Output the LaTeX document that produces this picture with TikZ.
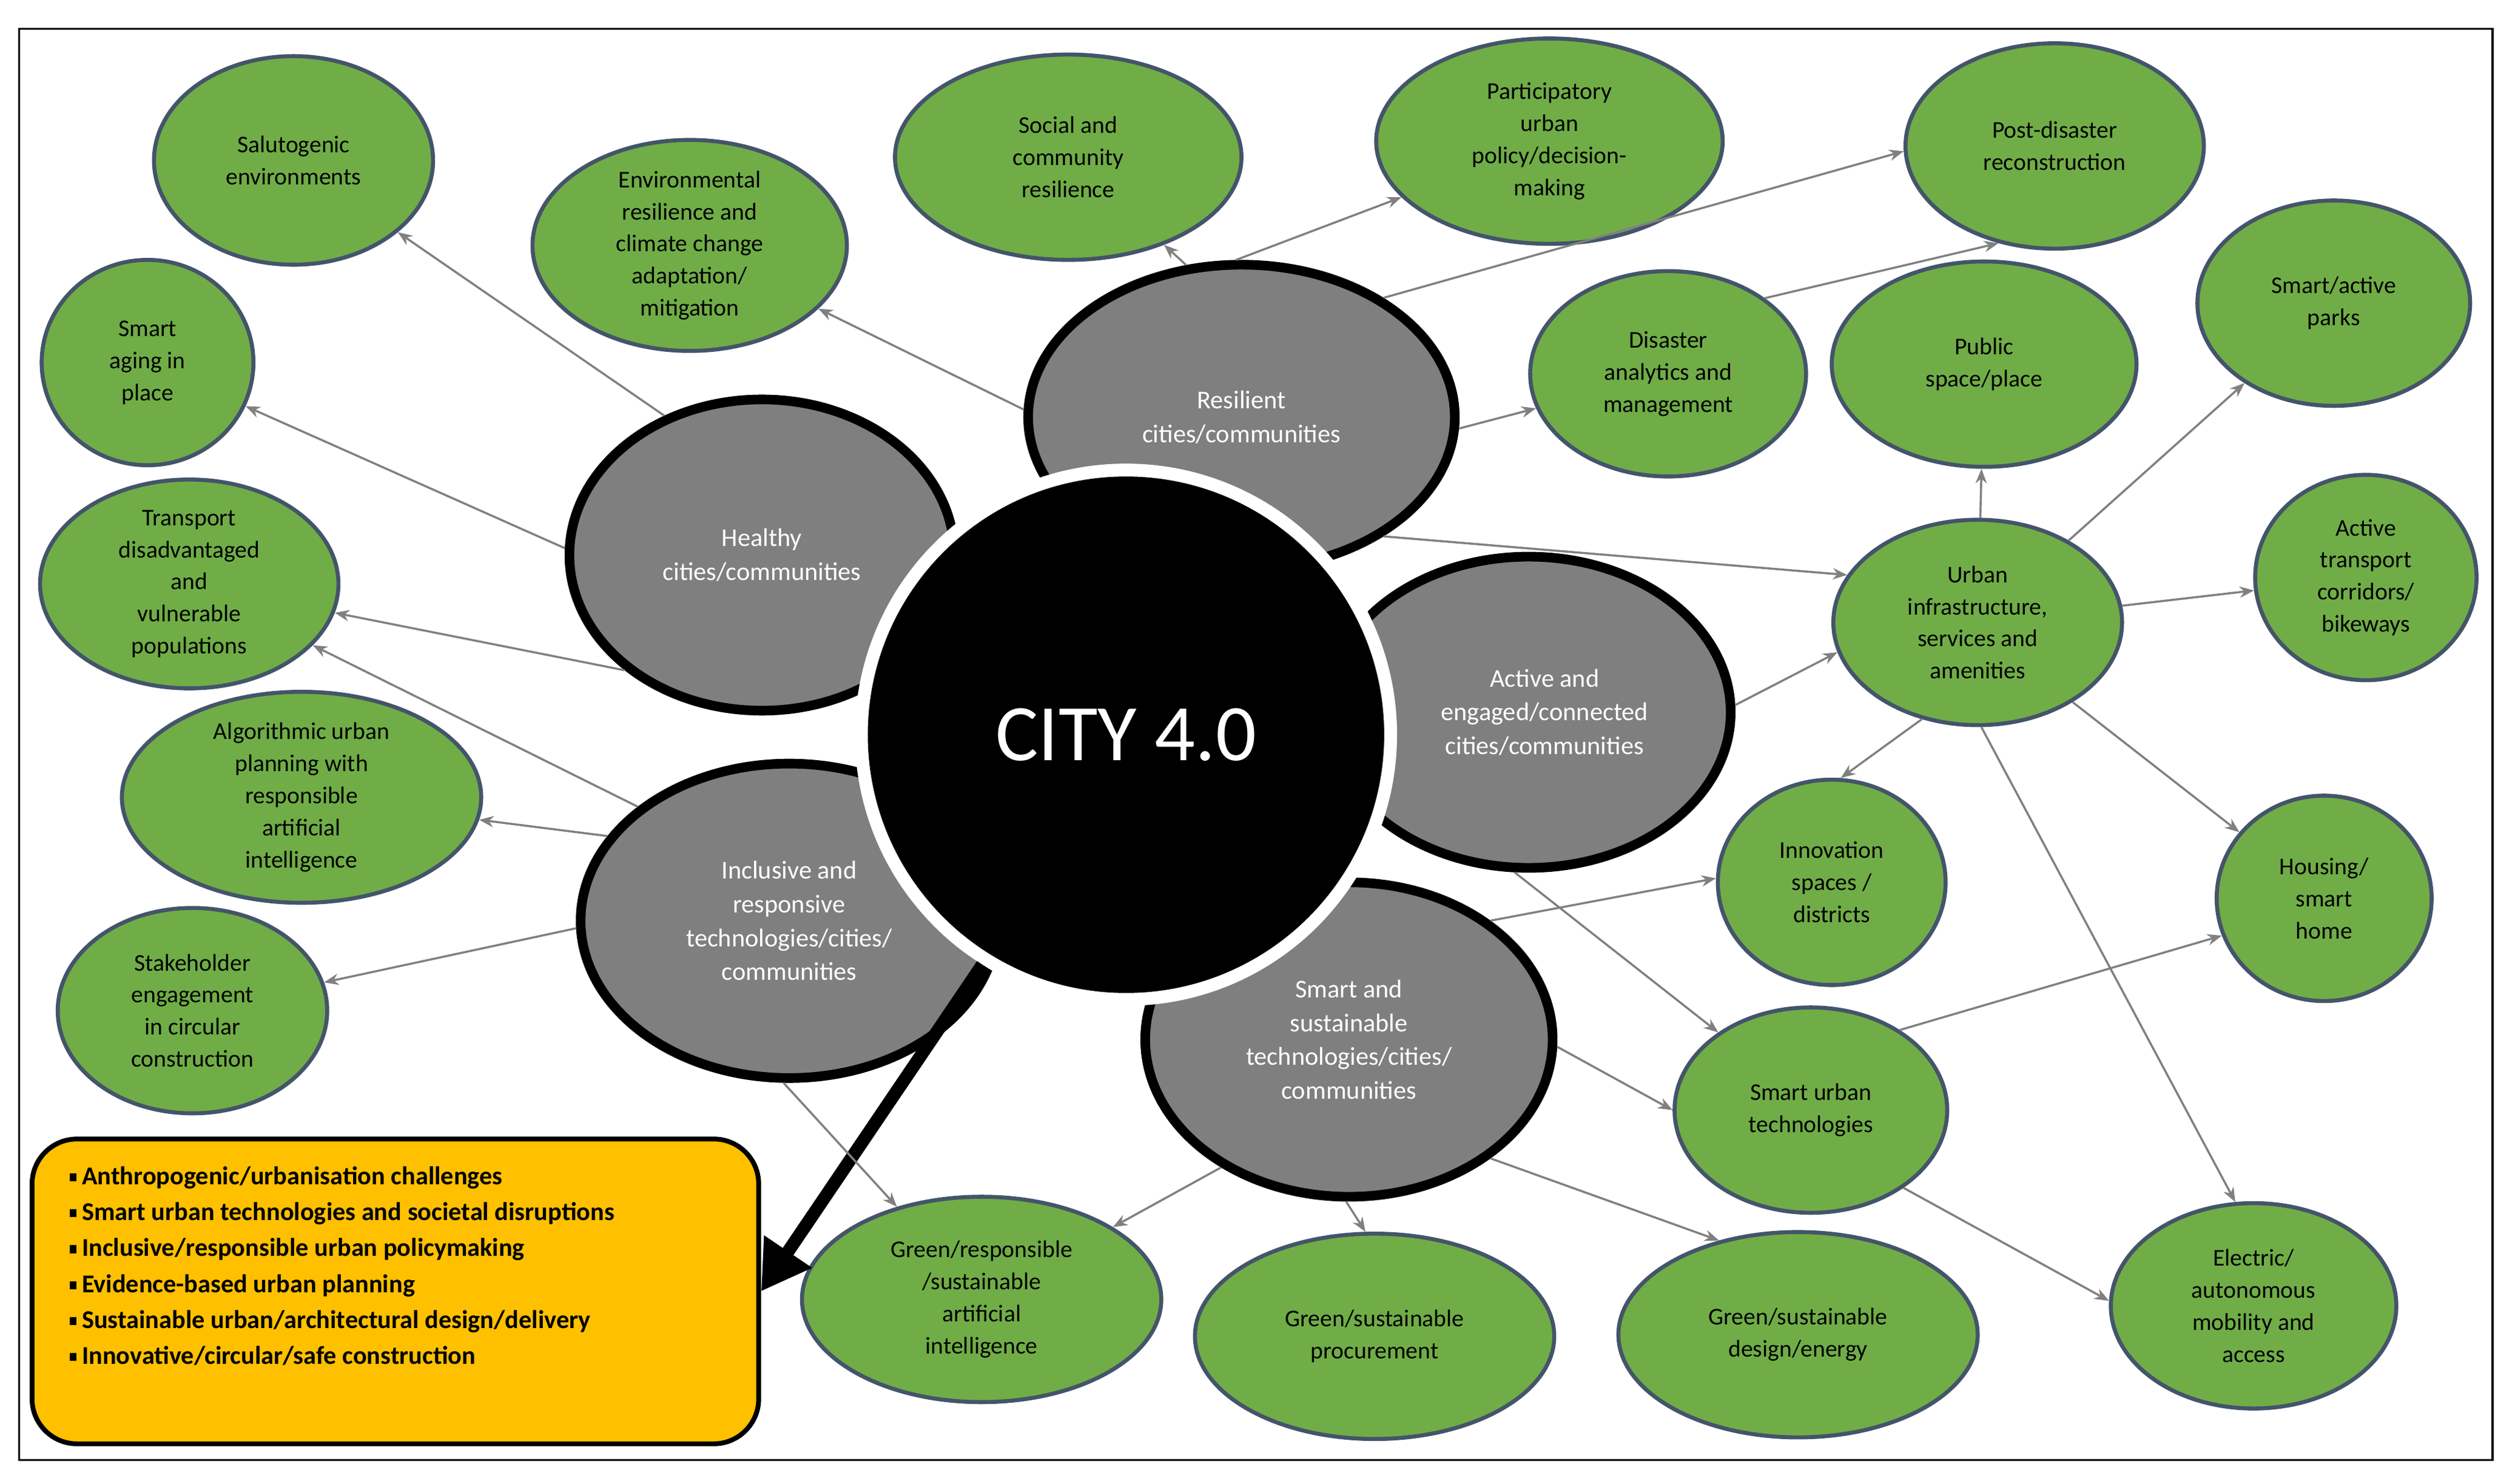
\documentclass[tikz,border=0pt]{standalone}
\usepackage{fontspec}
\setmainfont{Carlito}
\usetikzlibrary{shapes.geometric,arrows.meta}
\definecolor{gr}{HTML}{70AD47}
\definecolor{grb}{HTML}{44546A}
\definecolor{gy}{HTML}{7F7F7F}
\definecolor{yl}{HTML}{FFC000}
\tikzset{
 gnode/.style={ellipse,draw=grb,line width=2.5pt,fill=gr,inner sep=0pt,align=center,font=\fontsize{15}{20}\selectfont},
 ynode/.style={ellipse,draw=black,line width=6pt,fill=gy,inner sep=0pt,align=center,text=white,font=\fontsize{16}{21}\selectfont},
 con/.style={draw=gray,line width=1.3pt,-{Stealth[length=9pt,width=7pt]}},
}
\begin{document}
\begin{tikzpicture}[x=1pt,y=-1pt]
\useasboundingbox (0,0) rectangle (1568,925);
\fill[white] (0,0) rectangle (1568,925);
\draw[line width=1.2pt] (12,18) rectangle (1554,910);
% green
\node[gnode,minimum width=174,minimum height=130] (salut) at (183,100) {Salutogenic\\environments};
\node[gnode,minimum width=132,minimum height=128] (aging) at (92,226) {Smart\\aging in\\place};
\node[gnode,minimum width=186,minimum height=128] (transp) at (118,364) {Transport\\disadvantaged\\and\\vulnerable\\populations};
\node[gnode,minimum width=224,minimum height=128] (algo) at (188,497) {Algorithmic urban\\planning with\\responsible\\artificial\\intelligence};
\node[gnode,minimum width=168,minimum height=128] (stake) at (120,630) {Stakeholder\\engagement\\in circular\\construction};
\node[gnode,minimum width=196,minimum height=128] (envres) at (430,153) {Environmental\\resilience and\\climate change\\adaptation/\\mitigation};
\node[gnode,minimum width=216,minimum height=128] (social) at (666,98) {Social and\\community\\resilience};
\node[gnode,minimum width=216,minimum height=128] (partic) at (966,88) {Participatory\\urban\\policy/decision-\\making};
\node[gnode,minimum width=186,minimum height=128] (postdis) at (1281,91) {Post-disaster\\reconstruction};
\node[gnode,minimum width=172,minimum height=128] (disas) at (1040,233) {Disaster\\analytics and\\management};
\node[gnode,minimum width=190,minimum height=128] (public) at (1237,227) {Public\\space/place};
\node[gnode,minimum width=170,minimum height=128] (parks) at (1455,189) {Smart/active\\parks};
\node[gnode,minimum width=180,minimum height=128] (infra) at (1233,388) {Urban\\infrastructure,\\services and\\amenities};
\node[gnode,minimum width=138,minimum height=128] (acttr) at (1475,360) {Active\\transport\\corridors/\\bikeways};
\node[gnode,minimum width=142,minimum height=128] (innov) at (1142,550) {Innovation\\spaces /\\districts};
\node[gnode,minimum width=134,minimum height=128] (house) at (1449,560) {Housing/\\smart\\home};
\node[gnode,minimum width=170,minimum height=128] (sut) at (1129,692) {Smart urban\\technologies};
\node[gnode,minimum width=178,minimum height=128] (elec) at (1405,814) {Electric/\\autonomous\\mobility and\\access};
\node[gnode,minimum width=224,minimum height=128] (gai) at (612,810) {Green/responsible\\/sustainable\\artificial\\intelligence};
\node[gnode,minimum width=224,minimum height=128] (gproc) at (857,833) {Green/sustainable\\procurement};
\node[gnode,minimum width=224,minimum height=128] (gdes) at (1121,832) {Green/sustainable\\design/energy};
% gray
\node[ynode,minimum width=266,minimum height=190] (res) at (774,260) {Resilient\\cities/communities};
\node[ynode,minimum width=240,minimum height=194] (hea) at (475,346) {Healthy\\cities/communities};
\node[ynode,minimum width=252,minimum height=194] (act) at (953,444) {\hspace*{20pt}Active and\\\hspace*{20pt}engaged/connected\\\hspace*{20pt}cities/communities};
\node[ynode,minimum width=260,minimum height=196] (inc) at (492,574) {Inclusive and\\responsive\\technologies/cities/\\communities};
\node[ynode,minimum width=254,minimum height=196] (ss) at (841,648) {Smart and\\sustainable\\technologies/cities/\\communities};
% yellow box
\node[draw=black,line width=3pt,fill=yl,rounded corners=28pt,minimum width=453,minimum height=190,inner sep=0pt] (box) at (246.5,805) {};
\node[anchor=west,align=left,font=\fontsize{16}{22.4}\selectfont\bfseries] (boxtxt) at (40,805)
 {\rule[2pt]{4pt}{5pt}\ Anthropogenic/urbanisation challenges\\
  \rule[2pt]{4pt}{5pt}\ Smart urban technologies and societal disruptions\\
  \rule[2pt]{4pt}{5pt}\ Inclusive/responsible urban policymaking\\
  \rule[2pt]{4pt}{5pt}\ Evidence-based urban planning\\
  \rule[2pt]{4pt}{5pt}\ Sustainable urban/architectural design/delivery\\
  \rule[2pt]{4pt}{5pt}\ Innovative/circular/safe construction\\[10pt]};
% center
\node[circle,draw=white,line width=8pt,fill=black,minimum size=330,inner sep=0pt,text=white,font=\fontsize{50}{56}\selectfont] (city) at (702,458) {CITY 4.0};
\draw[line width=8pt,-{Triangle[length=30pt,width=34pt]}] (city.238) -- (box.east);
% connectors
\draw[con] (hea.125) -- (salut);
\draw[con] (hea.178) -- (aging);
\draw[con] (hea.220) -- (transp);
\draw[con] (inc.143) -- (transp);
\draw[con] (inc.155) -- (algo);
\draw[con] (inc.182) -- (stake);
\draw[con] (inc.268) -- (gai);
\draw[con] (res.178) -- (envres);
\draw[con] (res.110) -- (social);
\draw[con] (res.92) -- (partic);
\draw[con] (res.40) -- (postdis.182);
\draw[con] (res.-3) -- (disas);
\draw[con] (res.-40) -- (infra.160);
\draw[con] (disas.38) -- (postdis.240);
\draw[con] (act.2) -- (infra.192);
\draw[con] (act.265) -- (sut.140);
\draw[con] (infra) -- (public);
\draw[con] (infra.42) -- (parks);
\draw[con] (infra) -- (acttr);
\draw[con] (infra.240) -- (innov.85);
\draw[con] (infra.-40) -- (house);
\draw[con] (infra.-88) -- (elec.100);
\draw[con] (ss.40) -- (innov.178);
\draw[con] (ss.-2) -- (sut.180);
\draw[con] (ss.225) -- (gai);
\draw[con] (ss.269) -- (gproc.95);
\draw[con] (ss.-40) -- (gdes.130);
\draw[con] (sut.42) -- (house.200);
\draw[con] (sut.-40) -- (elec.178);
\end{tikzpicture}
\end{document}
